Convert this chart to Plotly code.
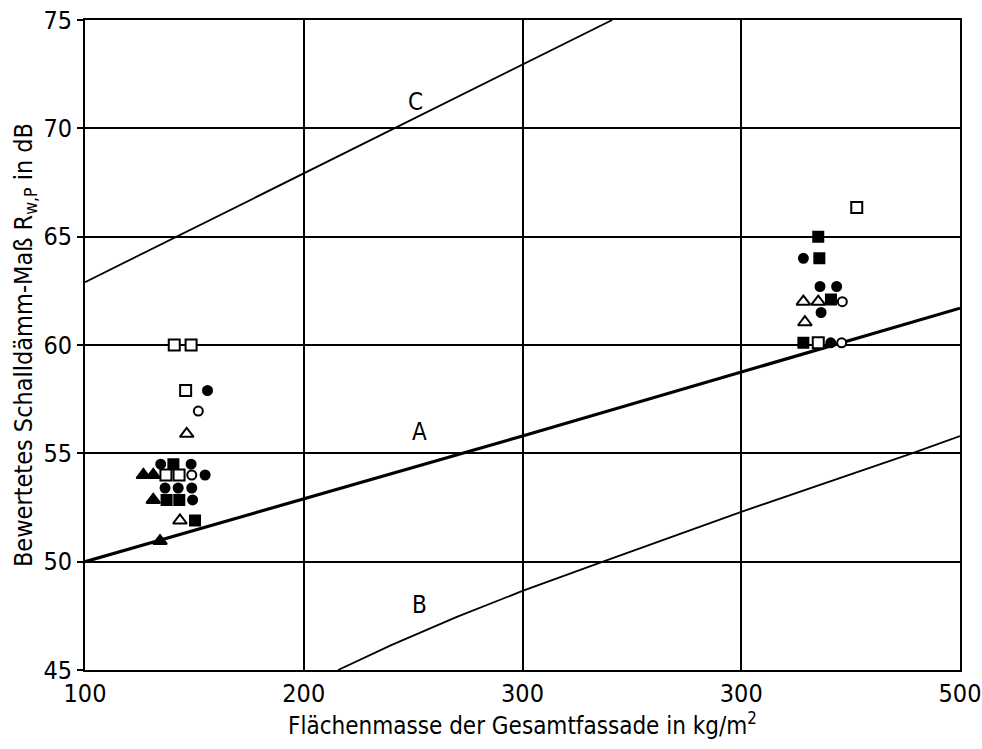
import plotly.graph_objects as go

# ---- data ----
x_tickvals = [100, 200, 300, 400, 500]
x_ticktext = ["100", "200", "300", "300", "500"]
y_tickvals = [45, 50, 55, 60, 65, 70, 75]

line_a_x = [100, 300, 500]
line_a_y = [50.0, 55.8, 61.7]
line_b_x = [215.7, 240, 270, 300, 336.8, 400, 478, 500]
line_b_y = [45.0, 46.15, 47.45, 48.65, 50.0, 52.3, 55.0, 55.8]
line_c_x = [100, 341]
line_c_y = [62.9, 75.0]

filled_circle_x = [134.6, 148.5, 154.9, 136.6, 142.6, 148.8, 149.2, 156.0,
                   428.4, 436.0, 443.6, 436.5, 440.9]
filled_circle_y = [54.5, 54.5, 54.0, 53.4, 53.4, 53.4, 52.85, 57.9,
                   64.0, 62.7, 62.7, 61.5, 60.1]
open_circle_x = [151.8, 148.8, 446.2, 445.9]
open_circle_y = [56.95, 54.0, 62.0, 60.1]
filled_square_x = [140.4, 137.3, 143.1, 150.3, 435.2, 435.7, 441.0, 428.4]
filled_square_y = [54.5, 52.85, 52.85, 51.9, 65.0, 64.0, 62.1, 60.1]
open_square_x = [140.8, 148.5, 146.0, 137.0, 143.0, 452.8, 435.2]
open_square_y = [60.0, 60.0, 57.9, 54.0, 54.0, 66.35, 60.1]
filled_triangle_x = [126.7, 131.2, 131.2, 134.3]
filled_triangle_y = [54.0, 54.0, 52.85, 50.95]
open_triangle_x = [146.5, 143.4, 428.4, 435.2, 429.1]
open_triangle_y = [55.9, 51.9, 62.0, 62.0, 61.05]

curve_labels = ["C", "A", "B"]
curve_label_x = [251, 253, 253]
curve_label_y = [71.2, 56.0, 48.0]

FONT = "DejaVu Sans Condensed, Liberation Sans Narrow, DejaVu Sans, sans-serif"

fig = go.Figure()

fig.add_trace(go.Scatter(x=line_a_x, y=line_a_y, mode="lines",
                         line=dict(color="black", width=3.2), showlegend=False))
fig.add_trace(go.Scatter(x=line_b_x, y=line_b_y, mode="lines",
                         line=dict(color="black", width=1.8), showlegend=False))
fig.add_trace(go.Scatter(x=line_c_x, y=line_c_y, mode="lines",
                         line=dict(color="black", width=1.8), showlegend=False))

def add_markers(xs, ys, symbol, filled, size):
    fig.add_trace(go.Scatter(
        x=xs, y=ys, mode="markers", showlegend=False,
        marker=dict(symbol=symbol, size=size,
                    color="black" if filled else "white",
                    line=dict(color="black", width=2)),
    ))

add_markers(filled_circle_x, filled_circle_y, "circle", True, 9)
add_markers(open_circle_x, open_circle_y, "circle", False, 9)
add_markers(filled_square_x, filled_square_y, "square", True, 10)
add_markers(open_square_x, open_square_y, "square", False, 11)
add_markers(filled_triangle_x, filled_triangle_y, "triangle-up", True, 12)
add_markers(open_triangle_x, open_triangle_y, "triangle-up", False, 12)

for t, xv, yv in zip(curve_labels, curve_label_x, curve_label_y):
    fig.add_annotation(x=xv, y=yv, text=t, showarrow=False,
                       font=dict(family=FONT, size=24, color="black"))

fig.update_layout(
    width=982, height=749,
    margin=dict(l=85, r=22, t=20, b=79),
    paper_bgcolor="white", plot_bgcolor="white",
    font=dict(family=FONT, color="black"),
    xaxis=dict(range=[100, 500], tickvals=x_tickvals, ticktext=x_ticktext,
               showgrid=True, gridcolor="black", gridwidth=1.5,
               showline=True, linecolor="black", linewidth=2, mirror=True,
               ticks="", tickfont=dict(size=25), zeroline=False,
               ticklabeloverflow="allow", automargin=False,
               title=dict(text="Flächenmasse der Gesamtfassade in kg/m<sup>2</sup>",
                          font=dict(size=24), standoff=6)),
    yaxis=dict(range=[45, 75], tickvals=y_tickvals,
               showgrid=True, gridcolor="black", gridwidth=1.5,
               showline=True, linecolor="black", linewidth=2, mirror=True,
               ticks="outside", ticklen=6, tickwidth=1.5, tickcolor="black",
               tickfont=dict(size=25), zeroline=False, automargin=False,
               title=dict(text="Bewertetes Schalldämm-Maß R<sub>w,P</sub> in dB",
                          font=dict(size=25), standoff=4)),
)

fig.write_html("out.html")
